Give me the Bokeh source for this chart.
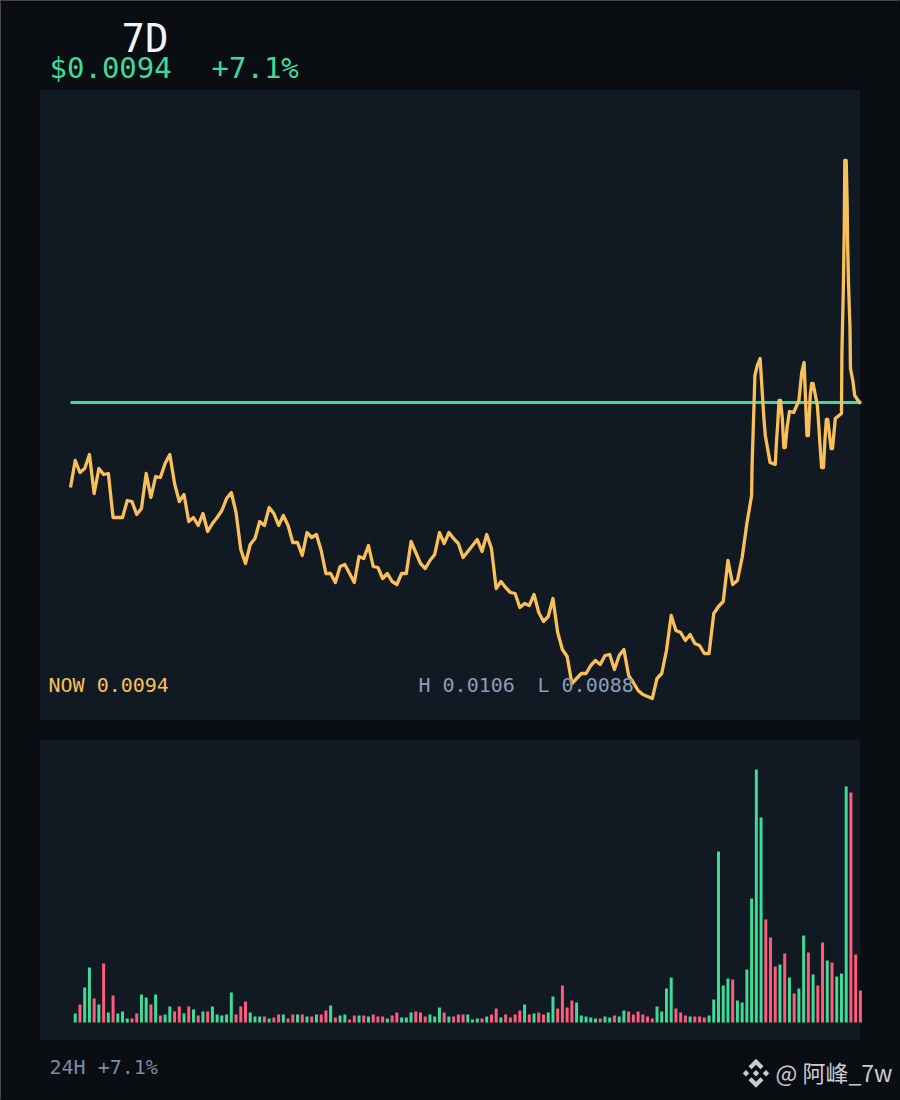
import re

from bokeh.embed import file_html
from bokeh.resources import INLINE
from bokeh.models import Label, Range1d
from bokeh.plotting import figure

PAGE = "#0a0d12"
PANEL = "#111923"
GREEN = "#3ddc97"
RED = "#ff5c7a"
ORANGE = "#f9c05a"
SLATE = "#8d9cb8"

# Price line, hours since the start of the 7D window and level above the panel floor
hours_a = list(range(144))
price_a = [233, 260, 248, 252, 266, 227, 252, 246, 247, 203, 203, 203, 220, 219, 206, 212, 247, 223, 244, 243,
           257, 266, 237, 219, 226, 199, 203, 195, 207, 189, 197, 203, 210, 222, 228, 208, 171, 157, 176, 182,
           199, 195, 213, 207, 195, 205, 195, 178, 178, 165, 188, 183, 186, 170, 147, 147, 138, 154, 156, 147,
           138, 164, 162, 175, 154, 153, 142, 147, 139, 136, 147, 147, 179, 168, 157, 152, 160, 166, 188, 177,
           188, 182, 177, 163, 169, 175, 181, 169, 186, 172, 132, 139, 133, 128, 127, 113, 117, 115, 126, 108,
           99, 104, 122, 88, 71, 64, 37, 42, 47, 47, 55, 60, 56, 65, 66, 51, 65, 71, 45, 38,
           30, 26, 24, 22, 42, 47, 70, 105, 90, 88, 80, 86, 77, 75, 67, 67, 107, 114, 119, 160,
           136, 140, 163, 197]
hours_b = [144.0, 144.1, 144.3, 144.5, 144.7, 145.2, 145.8, 146.2, 146.6, 146.9, 147.9, 149.0, 149.3, 149.5, 149.8,
           150.1, 150.5, 150.8, 151.1, 151.5, 152.0, 152.9, 154.0, 154.6, 155.1, 155.4, 155.7, 156.0, 156.4, 156.7,
           157.0, 157.9, 158.1, 158.4, 158.8, 159.2, 159.5, 159.8, 160.1, 160.8, 161.1, 161.7, 163.0, 163.1, 163.4,
           163.6, 163.7, 164.0, 164.2, 164.3, 164.5, 164.8, 164.9, 165.4, 165.8, 166.5, 167.1]
price_b = [225, 255, 285, 315, 345, 355, 362, 332, 302, 285, 258, 256, 282, 295, 320,
           320, 302, 273, 273, 293, 309, 308, 320, 348, 358, 322, 285, 285, 325, 337,
           337, 315, 302, 280, 253, 253, 280, 301, 301, 272, 272, 302, 307, 370, 433,
           497, 560, 560, 518, 477, 435, 393, 352, 340, 325, 320, 317]
now_level = 318

# Volume bars, one per hour; 1 = up (green), 0 = down (red)
volume = [9, 18, 35, 55, 24, 18, 59, 10, 27, 9, 11, 4, 4, 9, 28, 25, 18, 28, 7, 8,
          16, 11, 16, 9, 16, 13, 7, 11, 11, 16, 8, 7, 8, 30, 8, 16, 21, 10, 6, 6,
          6, 4, 5, 8, 8, 4, 8, 8, 8, 6, 6, 8, 8, 12, 17, 5, 7, 8, 3, 7,
          7, 7, 6, 8, 6, 6, 4, 7, 10, 5, 5, 10, 11, 10, 6, 8, 6, 15, 10, 6,
          6, 8, 8, 8, 3, 4, 4, 6, 8, 14, 5, 8, 5, 8, 12, 18, 8, 9, 10, 8,
          10, 26, 14, 37, 15, 22, 20, 7, 6, 5, 4, 4, 6, 5, 7, 6, 12, 11, 8, 11,
          8, 6, 4, 16, 11, 34, 45, 14, 10, 7, 6, 6, 6, 5, 7, 23, 171, 37, 44, 43,
          22, 20, 53, 124, 253, 205, 103, 85, 56, 58, 69, 45, 29, 34, 87, 70, 48, 37, 80, 62,
          60, 46, 49, 236, 230, 68, 32]
direction = [1, 0, 1, 1, 0, 1, 0, 1, 0, 1, 1, 1, 0, 0, 1, 1, 0, 1, 0, 1,
             1, 0, 0, 1, 0, 1, 0, 1, 0, 1, 1, 1, 1, 1, 0, 0, 0, 1, 1, 1,
             0, 1, 0, 0, 1, 0, 0, 1, 0, 1, 0, 1, 0, 0, 1, 0, 1, 1, 0, 0,
             1, 0, 1, 0, 0, 0, 1, 0, 0, 1, 1, 1, 0, 0, 0, 1, 1, 1, 0, 1,
             0, 0, 0, 1, 1, 1, 0, 1, 0, 0, 1, 0, 0, 0, 0, 1, 0, 1, 0, 0,
             1, 1, 0, 0, 0, 0, 1, 1, 1, 1, 1, 0, 1, 1, 0, 1, 1, 0, 0, 0,
             0, 0, 0, 1, 1, 1, 1, 0, 0, 0, 1, 0, 0, 0, 1, 1, 1, 1, 1, 0,
             1, 1, 1, 1, 1, 1, 0, 0, 0, 1, 0, 1, 0, 1, 1, 0, 1, 0, 0, 1,
             0, 1, 1, 1, 0, 0, 0]
bar_hours = [h + 1 for h in range(len(volume))]

TITLE = "7D"
PRICE_TEXT = "$0.0094"
CHANGE_TEXT = "+7.1%"
NOW_TEXT = "NOW 0.0094"
HIGH_TEXT = "H 0.0106"
LOW_TEXT = "L 0.0088"
FOOT_TEXT = "24H +7.1%"
MARK_TEXT = "@ 阿峰_7w"

W, H = 900, 1100
MONO = "DejaVu Sans Mono"

# The page itself is the main scale (pixels from the top-left); the data have scales of their own.
p = figure(width=W, height=H, output_backend="svg", toolbar_location=None, tools="",
           x_axis_location=None, y_axis_location=None, min_border=0,
           background_fill_color=PAGE, border_fill_color=PAGE,
           outline_line_color=None, outline_line_alpha=0, outline_line_width=0,
           x_range=Range1d(0, W), y_range=Range1d(H, 0))
p.grid.visible = False
p.extra_x_ranges["hours"] = Range1d(-14.8, 175.48)
p.extra_y_ranges["price"] = Range1d(-380, 720)
p.extra_y_ranges["volume"] = Range1d(-78, 1022)

# Panels
p.quad(left=[39.5, 39.5], right=[859.5, 859.5], top=[89.5, 739.5], bottom=[719.5, 1039.5],
       fill_color=PANEL, line_color=None)

# Price
p.line([hours_a[0], hours_b[-1]], [now_level, now_level], line_color=GREEN, line_width=3,
       x_range_name="hours", y_range_name="price")
p.line(hours_a + hours_b, price_a + price_b, line_color=ORANGE, line_width=3.3, line_join="round",
       x_range_name="hours", y_range_name="price")

# Volume
p.vbar(x=bar_hours, top=volume, bottom=0, width=0.63,
       fill_color=[GREEN if d else RED for d in direction], line_color=None,
       x_range_name="hours", y_range_name="volume")


def label(text, x, y, size, color, font=MONO):
    p.add_layout(Label(x=x, y=y, text=text, text_color=color, text_font=font,
                       text_font_size=f"{size}px", text_baseline="alphabetic"))


label(TITLE, 121, 38, 39, "#f2f4f8")
label(PRICE_TEXT, 49, 67, 29, GREEN)
label(CHANGE_TEXT, 211, 67, 29, GREEN)
label(NOW_TEXT, 48, 684, 20, ORANGE)
label(HIGH_TEXT, 418, 684, 20, SLATE)
label(LOW_TEXT, 537, 684, 20, SLATE)
label(FOOT_TEXT, 49, 1066, 20, "#7d8ba5")
label(MARK_TEXT, 775, 1071, 23, "#c9ccd1", font="Noto Sans CJK SC")

# Watermark logo
cx, cy = 755.5, 1072.7
chevron_top = ([0, 7.5, 4.5, 0, -4.5, -7.5], [-14.5, -7, -4, -8.5, -4, -7])
gem = ([3.2, 0, -3.2, 0], [0, 3.2, 0, -3.2])
p.patch([cx + a for a in chevron_top[0]], [cy + b for b in chevron_top[1]], color="#c9ccd1", line_width=0)
p.patch([cx + a for a in chevron_top[0]], [cy - b for b in chevron_top[1]], color="#c9ccd1", line_width=0)
for dx in (-10, 0, 10):
    p.patch([cx + dx + a for a in gem[0]], [cy + b for b in gem[1]], color="#c9ccd1", line_width=0)

# Page-coloured strips over the canvas edges
p.quad(left=[0, 0, 0, W - 2], right=[W, W, 2, W], top=[0, H - 2, 0, 0], bottom=[2, H, H, H],
       fill_color=PAGE, line_color=None, level="overlay")

html = file_html(p, INLINE)
html = re.sub(r"<body[^>]*>", f'<body style="background:{PAGE}">', html, count=1)
open("out.html", "w").write(html)
